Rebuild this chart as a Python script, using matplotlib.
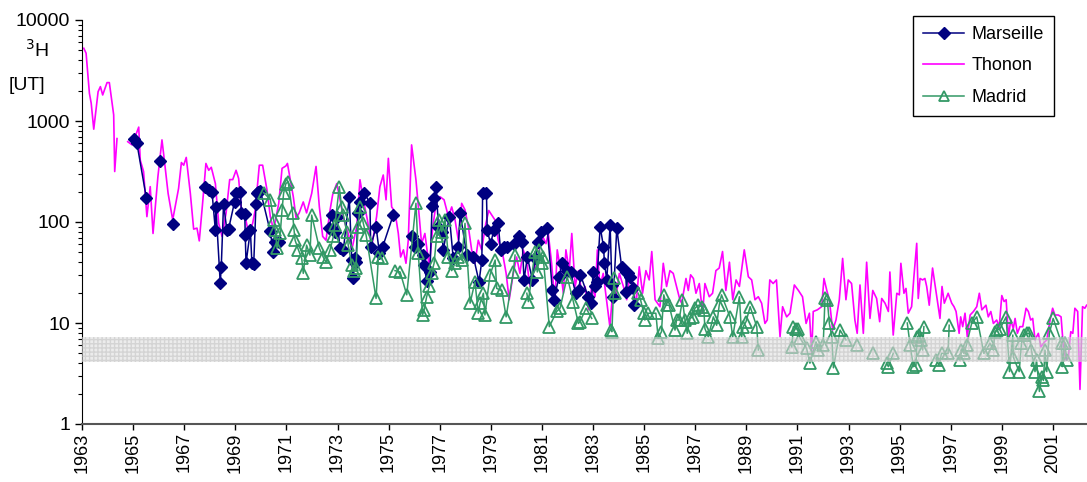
import numpy as np
import matplotlib.pyplot as plt

# Thonon (monthly rain, decimal years / tritium units)
thonon_t = [1963.07, 1963.16, 1963.29, 1963.36, 1963.46, 1963.63, 1963.72, 1963.81, 1963.98,
            1964.07, 1964.24, 1964.28, 1964.37, np.nan,
            1964.79, 1964.96, 1965.22, 1965.28, 1965.41, 1965.54, 1965.67, 1965.78, 1965.97,
            1966.13, 1966.20, 1966.37, 1966.55, 1966.78, 1966.89, 1966.98, 1967.08, 1967.24,
            1967.37, 1967.50, 1967.59, 1967.72, 1967.85, 1967.96, 1968.06, 1968.22, 1968.35,
            1968.48, 1968.64, 1968.78, 1968.90, 1969.03, 1969.13, 1969.23, 1969.39, 1969.52,
            1969.68, 1969.78, 1969.94, 1970.07, 1970.24, 1970.37, 1970.50, 1970.70, 1970.83,
            1970.98, 1971.04, 1971.27, 1971.38, 1971.50, 1971.66, 1971.79, 1971.99, 1972.16,
            1972.29, 1972.42, 1972.55, 1972.71, 1972.81, 1972.97, 1973.10, 1973.25, 1973.42,
            1973.56, 1973.75, 1973.88, 1974.01, 1974.17, 1974.34, 1974.53, 1974.66, 1974.79,
            1974.90, 1974.99, 1975.12, 1975.25, 1975.38, 1975.47, 1975.58, 1975.68, 1975.77,
            1975.90, 1976.07, 1976.20, 1976.29, 1976.42, 1976.59, 1976.73, 1976.88, 1977.01,
            1977.17, 1977.34, 1977.47, 1977.60, 1977.73, 1977.86, 1977.99, 1978.12, 1978.25,
            1978.38, 1978.51, 1978.64, 1978.80, 1978.92, 1979.04, 1979.16, 1979.29, 1979.46,
            1979.60, 1979.72, 1979.88, 1980.01, 1980.14, 1980.27, 1980.40, 1980.53, 1980.66,
            1980.81, 1980.93, 1981.03, 1981.16, 1981.25, 1981.38, 1981.51, 1981.60, 1981.71,
            1981.84, 1981.94, 1982.07, 1982.17, 1982.30, 1982.43, 1982.56, 1982.69, 1982.82,
            1982.95, 1983.08, 1983.17, 1983.27, 1983.40, 1983.53, 1983.66, 1983.79, 1983.92,
            1984.03, 1984.19, 1984.32, 1984.45, 1984.58, 1984.68, 1984.81, 1984.94, 1985.07,
            1985.20, 1985.30, 1985.43, 1985.62, 1985.75, 1985.88, 1986.01, 1986.14, 1986.27,
            1986.40, 1986.47, 1986.64, 1986.73, 1986.82, 1986.93, 1987.03, 1987.16, 1987.29,
            1987.38, 1987.55, 1987.68, 1987.81, 1987.94, 1988.07, 1988.20, 1988.34, 1988.47,
            1988.60, 1988.73, 1988.92, 1989.08, 1989.21, 1989.34, 1989.47, 1989.60, 1989.73,
            1989.82, 1989.92, 1990.05, 1990.18, 1990.32, 1990.42, 1990.58, 1990.71, 1990.88,
            1991.04, 1991.20, 1991.34, 1991.47, 1991.56, 1991.62, 1991.78, 1991.95, 1992.04,
            1992.15, 1992.25, 1992.38, 1992.51, 1992.64, 1992.77, 1992.90, 1992.99, 1993.12,
            1993.25, 1993.34, 1993.45, 1993.58, 1993.71, 1993.84, 1993.95, 1994.10, 1994.22,
            1994.30, 1994.43, 1994.56, 1994.62, 1994.75, 1994.89, 1994.99, 1995.05, 1995.17,
            1995.25, 1995.34, 1995.47, 1995.56, 1995.67, 1995.73, 1995.80, 1995.90, 1995.99,
            1996.06, 1996.16, 1996.29, 1996.38, 1996.47, 1996.58, 1996.66, 1996.75, 1996.90,
            1997.04, 1997.13, 1997.21, 1997.33, 1997.39, 1997.47, 1997.56, 1997.65, 1997.76,
            1997.89, 1998.02, 1998.12, 1998.22, 1998.38, 1998.47, 1998.57, 1998.67, 1998.80,
            1998.90, 1999.00, 1999.09, 1999.17, 1999.26, 1999.35, 1999.45, 1999.52, 1999.61,
            1999.71, 1999.82, 1999.95, 2000.04, 2000.13, 2000.21, 2000.30, 2000.43, 2000.53,
            2000.63, 2000.76, 2000.89, 2000.99, 2001.08, 2001.21, 2001.32, 2001.41, 2001.51,
            2001.60, 2001.70, 2001.78, 2001.86, 2001.97, 2002.06, 2002.16, 2002.25, 2002.32]
thonon_v = [5250, 4690, 1880, 1500, 830, 1950, 2190, 1810, 2400,
            2400, 1150, 316, 670, np.nan,
            624, 580, 870, 410, 316, 113, 224, 77, 280,
            650, 460, 192, 105, 215, 388, 365, 436, 192,
            85, 87, 65, 153, 380, 325, 348, 240, 97,
            72, 123, 263, 263, 325, 270, 141, 112, 77,
            97, 132, 365, 365, 208, 113, 83, 153, 340,
            359, 380, 178, 109, 123, 158, 123, 192, 355,
            141, 72, 66, 132, 186, 240, 166, 105, 77,
            53, 90, 262, 166, 105, 57, 113, 224, 292,
            166, 427, 141, 126, 77, 45, 53, 39, 66,
            580, 262, 113, 61, 77, 36, 90, 166, 178,
            166, 113, 141, 105, 66, 153, 132, 90, 53,
            39, 66, 53, 95, 130, 117, 105, 66, 49,
            31, 17, 31, 45, 31, 53, 42, 23, 31,
            42, 57, 72, 61, 77, 39, 15.7, 53, 36,
            19.7, 53, 33, 77, 23, 33, 19.7, 23, 13.5,
            23, 18.2, 53, 23, 31, 17, 9.2, 23, 19.7,
            31, 23, 17, 31, 23, 14.5, 36, 19.7, 33,
            26.7, 51, 17, 14.5, 39, 23, 33, 31, 23,
            17, 15.7, 27.6, 21, 30, 27.6, 19.7, 24.6, 12.5,
            24.6, 18.2, 19.7, 33, 35, 51, 21, 40, 17,
            26.7, 23, 53, 28.7, 26.7, 17, 18.2, 15.7, 9.9,
            10.7, 26.7, 24.6, 26.7, 7.3, 14.5, 11.5, 12.5, 23.8,
            21, 18.2, 9.9, 12.5, 5.0, 13, 13.5, 14.5, 27.6,
            21, 17, 8.5, 10.7, 17, 43.6, 17, 26.7, 24.6,
            10.7, 7.9, 23.8, 7.9, 40, 11.1, 21, 17.5, 10.3,
            17.5, 15.7, 13, 32, 7.6, 19.7, 19, 39, 19.7,
            22, 12.5, 14.5, 28.7, 61.5, 17.5, 27.6, 26.7, 27.6,
            23, 15, 35, 24.6, 17.5, 11.1, 23, 15.7, 19.7,
            15.7, 14.5, 13, 7.9, 11.5, 9.2, 12.5, 7.3, 12,
            13, 14.5, 19.7, 13.5, 15, 11.5, 13, 9.9, 10.7,
            9.2, 18.7, 16.3, 17, 7.3, 10.7, 8.8, 11.1, 7.9,
            9.2, 9.2, 14, 13, 10.7, 11.1, 6.8, 7.9, 5.8,
            6.3, 6.8, 10.7, 14, 12, 12, 11.5, 5.8, 4.3,
            4.5, 8.2, 7.9, 14, 13, 2.2, 14.5, 14, 15]

# Marseille
marseille_t = [1965.02, 1965.15, 1965.52, 1966.06, 1966.56,
               1967.83, 1967.96, 1968.09, 1968.22, 1968.24, 1968.41, 1968.45, 1968.54, 1968.67,
               1968.74, 1968.97, 1969.03, 1969.20, 1969.24, 1969.37, 1969.39, 1969.42, 1969.59,
               1969.65, 1969.72, 1969.81, 1969.84, 1969.89, 1969.98, 1970.36, 1970.49, 1970.55,
               1970.70,
               1972.67, 1972.77, 1972.90, 1972.97, 1973.10, 1973.23, 1973.46, 1973.56, 1973.60,
               1973.68, 1973.72, 1973.81, 1973.88, 1974.05, 1974.27, 1974.30, 1974.51, 1974.64,
               1974.77, 1975.18, 1975.90, 1976.03, 1976.16, 1976.36, 1976.39, 1976.49, 1976.62,
               1976.70, 1976.78, 1976.86, 1976.95, 1977.08, 1977.14, 1977.38, 1977.53, 1977.73,
               1977.80, 1978.06, 1978.32, 1978.54, 1978.65, 1978.68, 1978.83, 1978.86, 1978.99,
               1979.12, 1979.29, 1979.38, 1979.51, 1979.64, 1979.90, 1980.10, 1980.23, 1980.30,
               1980.43, 1980.63, 1980.73, 1980.86, 1980.95, 1981.21, 1981.41, 1981.47, 1981.67,
               1981.80, 1981.99, 1982.12, 1982.32, 1982.45, 1982.51, 1982.81, 1982.94, 1983.00,
               1983.06, 1983.15, 1983.28, 1983.41, 1983.45, 1983.54, 1983.67, 1983.74, 1983.80,
               1983.93, 1984.12, 1984.28, 1984.31, 1984.36, 1984.45, 1984.58, 1984.62]
marseille_v = [660, 600, 172, 405, 95,
               224, 208, 196, 83, 141, 25, 35.6, 151, 83,
               86, 158, 195, 200, 123, 120, 74, 39, 83,
               39, 38, 151, 192, 200, 205, 82, 51, 64,
               64,
               87, 117, 80, 113, 55, 53, 175, 42, 27.6,
               43.6, 40, 123, 158, 195, 153, 57, 90, 49,
               57, 117, 72, 57, 61, 47, 37.6, 26.3, 32,
               144, 172, 220, 90, 80, 53, 113, 43.6, 57,
               123, 47, 45, 25.6, 42, 195, 192, 83, 61,
               83, 97, 53, 57, 57, 61, 72, 64, 26.7,
               45, 26.7, 43.6, 64, 80, 87, 21, 17, 28.7,
               39, 33, 32, 19.7, 21, 30, 18.2, 15.7, 32,
               23, 25.6, 90, 57, 39, 26.7, 93, 23.8, 18.2,
               87, 36, 32, 20.5, 31, 28.7, 22, 15]

# Madrid
madrid_t = [1970.11, 1970.37, 1970.50, 1970.57, 1970.63, 1970.76, 1970.83, 1970.89, 1970.98,
            1971.07, 1971.24, 1971.30, 1971.34, 1971.47, 1971.60, 1971.66, 1971.79, 1971.92,
            1971.99, 1972.29, 1972.44, 1972.55, 1972.71, 1972.84, 1972.90, 1973.07, 1973.16,
            1973.23, 1973.36, 1973.42, 1973.56, 1973.65, 1973.72, 1973.81, 1973.88, 1974.01,
            1974.12, 1974.51, 1974.60, 1974.74, 1975.25, 1975.45, 1975.71, 1976.07, 1976.16,
            1976.33, 1976.39, 1976.49, 1976.59, 1976.68, 1976.78, 1976.88, 1976.98, 1977.08,
            1977.21, 1977.34, 1977.47, 1977.60, 1977.73, 1977.86, 1977.99, 1978.19, 1978.38,
            1978.51, 1978.58, 1978.71, 1978.77, 1978.97, 1979.17, 1979.23, 1979.43, 1979.60,
            1979.88, 1979.95, 1980.41, 1980.47, 1980.73, 1980.82, 1980.90, 1980.99, 1981.05,
            1981.29, 1981.58, 1981.71, 1981.99, 1982.23, 1982.43, 1982.49, 1982.73, 1982.95,
            1983.70, 1983.74, 1983.82, 1983.86, 1984.77, 1984.86, 1984.99, 1985.03, 1985.16,
            1985.46, 1985.55, 1985.68, 1985.77, 1985.88, 1985.98, 1986.21, 1986.27, 1986.37,
            1986.50, 1986.60, 1986.69, 1986.80, 1986.90, 1986.99, 1987.12, 1987.25, 1987.34,
            1987.38, 1987.51, 1987.71, 1987.84, 1987.94, 1988.03, 1988.36, 1988.47, 1988.73,
            1988.82, 1988.88, 1988.99, 1989.15, 1989.41, 1989.47,
            1990.78, 1990.84, 1990.94, 1991.03, 1991.10, 1991.36, 1991.49, 1991.73, 1991.82,
            1992.01, 1992.08, 1992.17, 1992.25, 1992.35, 1992.41, 1992.67, 1992.90, 1993.32,
            1993.95, 1994.49, 1994.56, 1994.75, 1995.30, 1995.41, 1995.54, 1995.64, 1995.69,
            1995.77, 1995.82, 1995.90, 1995.95, 1996.44, 1996.54, 1996.64, 1996.90, 1996.94,
            1997.36, 1997.42, 1997.52, 1997.62, 1997.82, 1998.02, 1998.30, 1998.54, 1998.67,
            1998.73, 1998.82, 1998.93, 1999.17, 1999.30, 1999.43, 1999.45, 1999.68, 1999.77,
            1999.86, 1999.97, 2000.07, 2000.16, 2000.30, 2000.36, 2000.47, 2000.56, 2000.63,
            2000.69, 2000.76, 2000.86, 2001.01, 2001.34, 2001.37, 2001.46, 2001.55]
madrid_v = [195, 167, 105, 83, 55, 77, 132, 192, 240,
            250, 123, 83, 66, 53, 43.6, 31, 59, 47,
            117, 55, 45, 40, 53, 72, 93, 224, 141,
            117, 80, 59, 37.6, 33, 35, 90, 141, 97,
            74, 17.5, 45, 43.6, 33, 32, 19, 153, 49,
            12, 13.5, 18.2, 23, 31, 39, 72, 105, 80,
            105, 45, 33, 39, 45, 42, 97, 15.7, 25.6,
            12.5, 15.7, 19.7, 12, 30, 42, 22, 21, 11.5,
            32, 47, 19.7, 16.3, 51, 32, 53, 39, 45,
            9.2, 13, 14, 28.7, 16.3, 9.9, 10.3, 14, 11.1,
            8.5, 8.2, 27.6, 19.7, 19.7, 17, 12.5, 10.7, 12.5,
            12.5, 7.1, 8.2, 19, 15, 15, 8.5, 10.7, 10.7,
            17, 10.7, 7.9, 11.1, 11.5, 14, 15, 14.5, 13.5,
            8.8, 7.3, 11.5, 9.5, 15, 19, 11.5, 7.3, 18.2,
            7.3, 9.2, 10.3, 14.5, 9.2, 5.4,
            5.8, 9.2, 8.8, 8.8, 7.1, 5.6, 4.0, 6.5, 5.4,
            6.1, 17.5, 17, 9.9, 7.3, 3.6, 8.5, 6.8, 6.1,
            5.0, 4.0, 3.7, 5.0, 10, 6.1, 3.7, 3.8, 7.3,
            7.6, 6.8, 5.4, 9.2, 4.3, 3.8, 5.0, 5.0, 9.5,
            4.3, 5.4, 5.0, 6.1, 9.9, 11.5, 5.0, 6.3, 5.4,
            8.2, 8.5, 8.8, 11.5, 3.3, 7.6, 4.6, 3.3, 6.3,
            7.6, 7.9, 7.9, 5.4, 3.3, 4.3, 2.1, 2.9, 2.7,
            5.4, 3.3, 7.9, 11.1, 6.3, 3.7, 6.3, 4.3]

year_ticks = list(range(1963, 2002, 2))
band_low, band_high = 4.1, 7.2


def with_gaps(t, v, max_gap):
    # break the line where samples are far apart in time
    t = np.asarray(t, float)
    v = np.asarray(v, float)
    out_t, out_v = [t[0]], [v[0]]
    for i in range(1, len(t)):
        if t[i] - t[i - 1] > max_gap:
            out_t.append(np.nan)
            out_v.append(np.nan)
        out_t.append(t[i])
        out_v.append(v[i])
    return out_t, out_v


plt.rcParams['font.family'] = ['Liberation Sans', 'DejaVu Sans']

fig = plt.figure(figsize=(10.87, 4.82), dpi=100)
ax = fig.add_axes([82 / 1087, 58 / 482, 1005 / 1087, 404 / 482])

ax.plot(thonon_t, thonon_v, color='#FF00FF', lw=1.2, label='Thonon', zorder=2)

mt, mv = with_gaps(marseille_t, marseille_v, 0.45)
ax.plot(mt, mv, color='#000080', lw=1.1, marker='D', ms=6.5, mec='#000080',
        mfc='#000080', label='Marseille', zorder=3)

dt, dv = with_gaps(madrid_t, madrid_v, 0.4)
ax.plot(dt, dv, color='#339966', lw=1.1, marker='^', ms=8, mfc='none',
        mec='#339966', mew=1.3, label='Madrid', zorder=4)

ax.axhspan(band_low, band_high, facecolor=(0.87, 0.87, 0.87, 0.55),
           edgecolor=(0.72, 0.72, 0.72, 0.45), hatch='++++', lw=0, zorder=5)

ax.set_yscale('log')
ax.set_ylim(1, 10000)
ax.set_xlim(1963, 1963 + 1005 / 25.55)
ax.set_yticks([1, 10, 100, 1000, 10000])
ax.set_yticklabels(['1', '10', '100', '1000', '10000'], fontsize=14)
ax.set_xticks(year_ticks)
ax.set_xticklabels([str(y) for y in year_ticks], rotation=90, fontsize=13)
ax.tick_params(axis='y', which='major', length=5, width=1)
ax.tick_params(axis='y', which='minor', length=3, width=0.8)
ax.tick_params(axis='x', which='major', length=4, width=1, pad=2)
ax.spines['top'].set_visible(False)
ax.spines['right'].set_visible(False)
ax.spines['bottom'].set_linewidth(1.5)
ax.spines['bottom'].set_color('#555555')

fig.text(37 / 1087, 1 - 50 / 482, '$^{3}$H', fontsize=14, ha='center', va='center')
fig.text(27 / 1087, 1 - 85 / 482, '[UT]', fontsize=14, ha='center', va='center')

handles, labels = ax.get_legend_handles_labels()
order = [labels.index('Marseille'), labels.index('Thonon'), labels.index('Madrid')]
leg = fig.legend([handles[i] for i in order], [labels[i] for i in order],
                 loc='upper left', bbox_to_anchor=(913 / 1087, 1 - 16 / 482), fontsize=13,
                 fancybox=False, edgecolor='black', framealpha=1, handlelength=2.3,
                 handletextpad=0.4, borderpad=0.55, labelspacing=0.8, markerscale=0.9,
                 borderaxespad=0)
leg.get_frame().set_linewidth(1.0)

fig.savefig('out.png', dpi=100)
